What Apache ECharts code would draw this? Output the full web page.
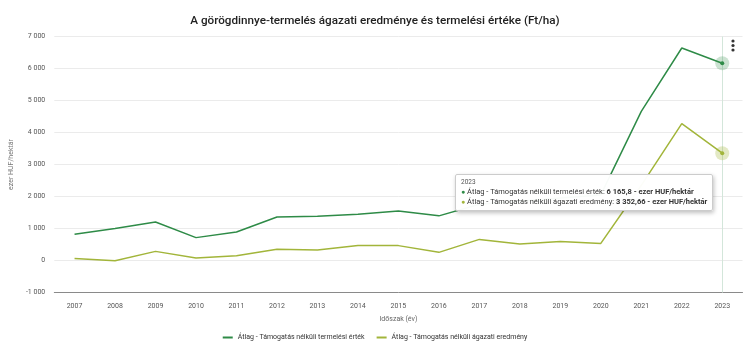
<!DOCTYPE html>
<html>
<head>
<meta charset="utf-8">
<script src="https://cdn.jsdelivr.net/npm/echarts@6/dist/echarts.min.js"></script>
<style>
html,body{margin:0;padding:0;background:#fff;}
#c{width:750px;height:355px;}
</style>
</head>
<body>
<div id="c"></div>
<script>
const years = ['2007','2008','2009','2010','2011','2012','2013','2014','2015','2016','2017','2018','2019','2020','2021','2022','2023'];
const termelesiErtek = [820, 1000, 1205, 715, 890, 1360, 1385, 1445, 1550, 1395, 1760, 1850, 1950, 2050, 4660, 6640, 6165.8];
const agazatiEredmeny = [65, -5, 285, 75, 150, 350, 330, 470, 465, 255, 660, 515, 595, 535, 2350, 4280, 3352.66];
const seriesNames = ['Átlag - Támogatás nélküli termelési érték', 'Átlag - Támogatás nélküli ágazati eredmény'];
const titleText = 'A görögdinnye-termelés ágazati eredménye és termelési értéke (Ft/ha)';
const yAxisName = 'ezer HUF/hektár';
const xAxisName = 'Időszak (év)';
const unit = 'ezer HUF/hektár';
const hoverIndex = 16;

const GREEN = '#2e8b47';
const OLIVE = '#a2b53a';
const FONT = 'Roboto';

function fmt(v){
  const neg = v < 0;
  const s = String(Math.abs(v));
  const parts = s.split('.');
  const intPart = parts[0].replace(/\B(?=(\d{3})+(?!\d))/g, ' ');
  return (neg ? '-' : '') + intPart + (parts[1] ? ',' + parts[1] : '');
}

const chart = echarts.init(document.getElementById('c'), null, {renderer:'canvas'});

function mkSeries(name, data, color, haloColor){
  return {
    name: name,
    type: 'line',
    data: data,
    symbol: 'none',
    z: 3,
    lineStyle: {color: color, width: 1.5},
    itemStyle: {color: color},
    emphasis: {disabled: true},
    markPoint: {
      silent: true,
      animation: false,
      label: {show: false},
      data: [
        {coord: [years[hoverIndex], data[hoverIndex]], symbol: 'circle', symbolSize: 14, itemStyle: {color: haloColor}, label: {show: false}},
        {coord: [years[hoverIndex], data[hoverIndex]], symbol: 'circle', symbolSize: 4, itemStyle: {color: color}, label: {show: false}}
      ]
    }
  };
}

chart.setOption({
  animation: false,
  textStyle: {fontFamily: FONT},
  title: {
    text: titleText,
    left: 'center',
    top: 10,
    textStyle: {fontFamily: FONT, fontSize: 11.7, fontWeight: 500, color: '#222'}
  },
  grid: {left: 46.5, right: 7.5, top: 36.5, bottom: 62.5, containLabel: false},
  tooltip: {
    trigger: 'axis',
    alwaysShowContent: true,
    position: [455, 174],
    backgroundColor: 'rgba(255,255,255,0.97)',
    borderColor: '#cccccc',
    borderWidth: 1,
    padding: [3, 5],
    extraCssText: 'box-shadow:1px 2px 4px rgba(0,0,0,0.25);border-radius:2px;',
    textStyle: {fontFamily: FONT, fontSize: 7.5, color: '#333'},
    axisPointer: {type: 'line', z: 1, lineStyle: {color: '#d3e6da', width: 1, type: 'solid'}, label: {show: false}},
    formatter: function(params){
      let html = '<div style="font-family:Roboto;font-size:6.5px;color:#555;line-height:9px">' + params[0].axisValue + '</div>';
      params.forEach(function(p){
        html += '<div style="font-family:Roboto;font-size:7.5px;line-height:10px;color:#333;white-space:nowrap">' +
          '<span style="color:' + p.color + ';font-size:7px">●</span> ' + p.seriesName + ': <b>' + fmt(p.value) + ' - ' + unit + '</b></div>';
      });
      return html;
    }
  },
  legend: {
    bottom: 9,
    left: 'center',
    itemWidth: 10,
    itemHeight: 2,
    itemGap: 12,
    icon: 'rect',
    textStyle: {fontFamily: FONT, fontSize: 7, color: '#333'},
    data: seriesNames
  },
  xAxis: {
    type: 'category',
    data: years,
    boundaryGap: true,
    name: xAxisName,
    nameLocation: 'middle',
    nameGap: 23,
    nameTextStyle: {fontFamily: FONT, fontSize: 7, color: '#666'},
    axisLine: {onZero: false, lineStyle: {color: '#8a8a8a', width: 1}},
    axisTick: {show: false},
    axisLabel: {fontFamily: FONT, fontSize: 7, color: '#555', margin: 10}
  },
  yAxis: {
    type: 'value',
    min: -1000,
    max: 7000,
    interval: 1000,
    name: yAxisName,
    nameLocation: 'middle',
    nameGap: 31,
    nameRotate: 90,
    nameTextStyle: {fontFamily: FONT, fontSize: 7, color: '#777'},
    axisLine: {show: false},
    axisTick: {show: false},
    splitLine: {lineStyle: {color: '#ebebeb', width: 1}},
    axisLabel: {fontFamily: FONT, fontSize: 7, color: '#555', margin: 9, formatter: function(v){ return fmt(v); }}
  },
  graphic: [
    {type: 'circle', shape: {cx: 733, cy: 41, r: 1.6}, style: {fill: '#333'}},
    {type: 'circle', shape: {cx: 733, cy: 45.5, r: 1.6}, style: {fill: '#333'}},
    {type: 'circle', shape: {cx: 733, cy: 50, r: 1.6}, style: {fill: '#333'}}
  ],
  series: [
    mkSeries(seriesNames[0], termelesiErtek, GREEN, 'rgba(46,139,71,0.25)'),
    mkSeries(seriesNames[1], agazatiEredmeny, OLIVE, 'rgba(162,181,58,0.3)')
  ]
});

chart.dispatchAction({type: 'showTip', seriesIndex: 0, dataIndex: hoverIndex});
</script>
</body>
</html>
